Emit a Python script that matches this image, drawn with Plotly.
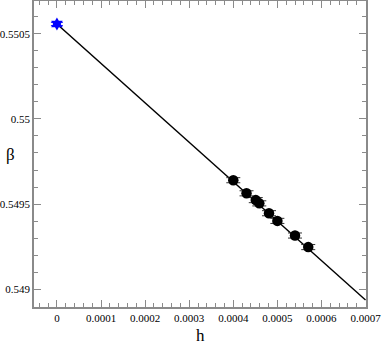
import plotly.graph_objects as go

# measured points
h_vals = [0.000400, 0.000430, 0.000451, 0.000459, 0.000481, 0.000500, 0.000540, 0.000570]
beta_vals = [0.549640, 0.549563, 0.549523, 0.549504, 0.549446, 0.549401, 0.549315, 0.549247]
beta_err = [0.000015, 0.000015, 0.000015, 0.000015, 0.000015, 0.000015, 0.000015, 0.000015]

# extrapolated value at h = 0
h0 = [0.0]
beta0 = [0.550558]
beta0_err = [0.000010]

# linear fit
fit_h = [0.0, 0.0007]
fit_beta = [0.550558, 0.548936]

x_ticks = [0, 0.0001, 0.0002, 0.0003, 0.0004, 0.0005, 0.0006, 0.0007]
x_labels = ["0", "0.0001", "0.0002", "0.0003", "0.0004", "0.0005", "0.0006", "0.0007"]
y_ticks = [0.549, 0.5495, 0.55, 0.5505]
y_labels = ["0.549", "0.5495", "0.55", "0.5505"]

FONT = "Liberation Serif"
AXIS_COL = "#8a8a8a"

fig = go.Figure()
fig.add_scatter(x=fit_h, y=fit_beta, mode="lines",
                line=dict(color="black", width=1.5), showlegend=False)
fig.add_scatter(x=h_vals, y=beta_vals, mode="markers",
                marker=dict(color="black", size=10.5),
                error_y=dict(type="data", array=beta_err, color="#333", width=7, thickness=1),
                showlegend=False)
fig.add_scatter(x=h0, y=beta0, mode="markers",
                marker=dict(color="blue", size=10, symbol="hexagram"),
                error_y=dict(type="data", array=beta0_err, color="blue", width=6, thickness=1),
                showlegend=False)

axis_common = dict(
    showgrid=False, zeroline=False, showline=True, linecolor=AXIS_COL, linewidth=1.5,
    mirror="ticks", ticks="inside", tickcolor=AXIS_COL, ticklen=7, tickwidth=1,
    tickfont=dict(family=FONT, size=11, color="black"), automargin=False,
    ticklabeloverflow="allow",
)

fig.update_xaxes(range=[-0.000052, 0.000701], tickvals=x_ticks, ticktext=x_labels,
                 minor=dict(dtick=0.00002, ticks="inside", ticklen=4, tickcolor=AXIS_COL),
                 **axis_common)
fig.update_yaxes(range=[0.548895, 0.550693], tickvals=y_ticks, ticktext=y_labels,
                 minor=dict(dtick=0.0001, ticks="inside", ticklen=4, tickcolor=AXIS_COL),
                 **axis_common)

# axis titles
fig.add_annotation(text="β", x=-0.072, y=0.497, xref="paper", yref="paper",
                   xanchor="center", yanchor="middle", showarrow=False,
                   font=dict(family=FONT, size=17, color="black"))
fig.add_annotation(text="h", x=0.5, y=-0.092, xref="paper", yref="paper",
                   xanchor="center", yanchor="middle", showarrow=False,
                   font=dict(family=FONT, size=17, color="black"))

fig.update_layout(
    width=382, height=349,
    font=dict(family=FONT),
    plot_bgcolor="white", paper_bgcolor="white",
    margin=dict(t=1, b=42, l=34, r=16),
)

fig.write_html("out.html", config={"displayModeBar": False},
               post_script="document.body.style.margin='0';")
